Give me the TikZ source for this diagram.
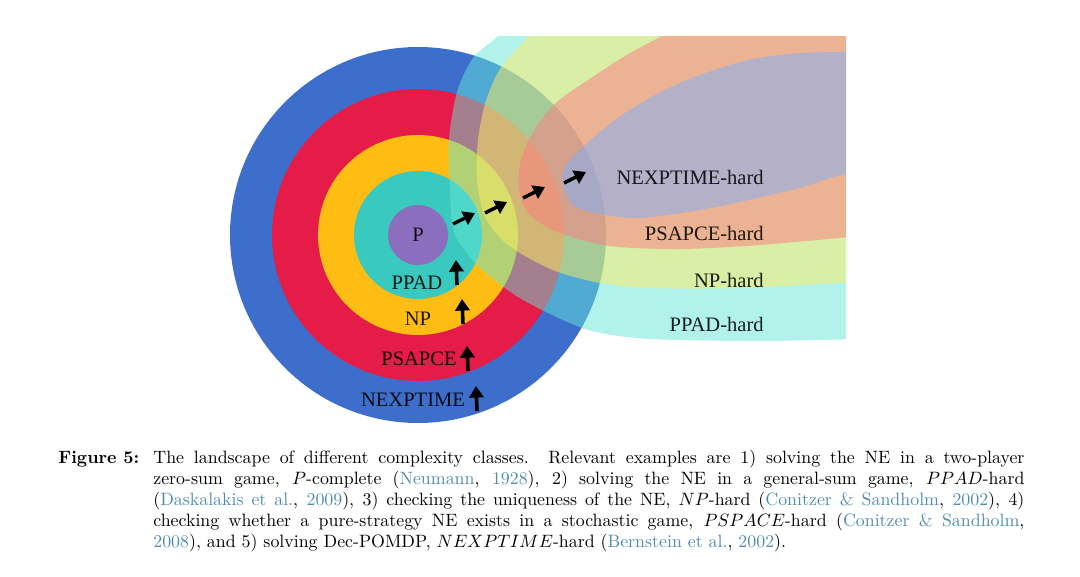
\documentclass[tikz,border=0pt]{standalone}
\usepackage{fontspec}
\newfontfamily\timesfont{Liberation Serif}
\usetikzlibrary{arrows.meta}

\definecolor{nexpblue}{RGB}{61,110,204}
\definecolor{pspacered}{RGB}{229,27,72}
\definecolor{npyellow}{RGB}{255,188,18}
\definecolor{ppadteal}{RGB}{58,201,190}
\definecolor{ppurple}{RGB}{140,110,190}
\definecolor{ppadhard}{RGB}{100,230,215}
\definecolor{nphard}{RGB}{255,236,95}
\definecolor{pspacehard}{RGB}{255,120,130}
\definecolor{nexphard}{RGB}{125,175,255}
\definecolor{citeblue}{RGB}{80,140,175}

\tikzset{
  hard/.style={fill opacity=0.5},
  upto/.style={-{Triangle[length=6.5pt,width=8pt]}, line width=2pt},
  classlbl/.style={font=\timesfont\fontsize{11.5}{13}\selectfont, inner sep=0pt, text opacity=0.88},
}

\begin{document}
\begin{tikzpicture}[x=0.56pt, y=-0.56pt]
\useasboundingbox (0,0) rectangle (1080,577);

% the classes
\coordinate (c) at (418,235);
\fill[nexpblue]  (c) circle [radius=188];
\fill[pspacered] (c) circle [radius=146];
\fill[npyellow]  (c) circle [radius=100];
\fill[ppadteal]  (c) circle [radius=64];
\fill[ppurple]   (c) circle [radius=30];

% the hard regions
\begin{scope}
\clip (400,37) rectangle (846,420);
\fill[ppadhard, hard] (900,0) -- (525,0) -- plot[smooth] coordinates {(525,10) (497,37) (473,58) (457,92) (449,140) (450,190) (454,232) (476,264) (512,293) (548,313) (592,331) (650,339) (760,341) (860,339)} -- (900,339) -- cycle;
\fill[nphard, hard] (900,0) -- (545,0) -- plot[smooth] coordinates {(543,15) (528,37) (511,55) (497,74) (485,104) (478,140) (477,180) (484,214) (500,238) (525,256) (558,272) (600,283) (650,288) (740,288) (860,282)} -- (900,282) -- cycle;
\fill[pspacehard, hard] (900,0) -- (690,0) -- plot[smooth] coordinates {(690,20) (660,37) (630,53) (594,76) (557,102) (534,130) (521,160) (519,190) (530,215) (560,233) (610,246) (680,249) (760,245) (860,236)} -- (900,236) -- cycle;
\fill[nexphard, hard] plot[smooth cycle] coordinates {(562,182) (567,164) (581,149) (601,131) (625,113) (655,95) (687,80) (720,68) (753,59) (800,53) (846,52) (900,52) (940,110) (900,172) (846,174) (800,188) (753,199) (700,210) (640,218) (600,214) (573,205)};
\end{scope}

% labels
\node[classlbl] (p) at (418,235) {P};
\node[classlbl] (ppad) at (417,283) {PPAD};
\node[classlbl] (np) at (418,319) {NP};
\node[classlbl] (pspace) at (419,359) {PSAPCE};
\node[classlbl] (nexp) at (413,400) {NEXPTIME};
\node[classlbl, anchor=east] (nexph) at (764,177) {NEXPTIME-hard};
\node[classlbl, anchor=east] (pspaceh) at (764,233) {PSAPCE-hard};
\node[classlbl, anchor=east] (nph) at (764,280) {NP-hard};
\node[classlbl, anchor=east] (ppadh) at (764,324) {PPAD-hard};

% arrows
\foreach \i/\sx/\sy in {1/457/285, 2/463/324, 3/468/371, 4/477/411}{
  \coordinate (u\i) at (\sx,\sy);
  \draw[upto] (u\i) -- ++(-1,-25);
}
\foreach \i/\sx/\sy in {1/453/224, 2/485/213, 3/523/198, 4/564/183}{
  \coordinate (d\i) at (\sx,\sy);
  \draw[upto] (d\i) -- ++(22,-11);
}

% caption
\node[anchor=base west, inner sep=0pt, font=\bfseries] (figlbl) at (58,463) {Figure 5:};
\node[anchor=base west, inner sep=0pt, text width=487.8pt, align=justify, font=\fontsize{10}{11.8}\selectfont] (cap) at (153,463)
{The landscape of different complexity classes. Relevant examples are 1) solving the NE in a two-player\linebreak
zero-sum game, $P$-complete (\textcolor{citeblue}{Neumann}, \textcolor{citeblue}{1928}), 2) solving the NE in a general-sum game, $PPAD$-hard\linebreak
(\textcolor{citeblue}{Daskalakis et al.}, \textcolor{citeblue}{2009}), 3) checking the uniqueness of the NE, $NP$-hard (\textcolor{citeblue}{Conitzer \& Sandholm}, \textcolor{citeblue}{2002}), 4)\linebreak
checking whether a pure-strategy NE exists in a stochastic game, $PSPACE$-hard (\textcolor{citeblue}{Conitzer \& Sandholm},\linebreak
\textcolor{citeblue}{2008}), and 5) solving Dec-POMDP, $NEXPTIME$-hard (\textcolor{citeblue}{Bernstein et al.}, \textcolor{citeblue}{2002}).};
\end{tikzpicture}
\end{document}
